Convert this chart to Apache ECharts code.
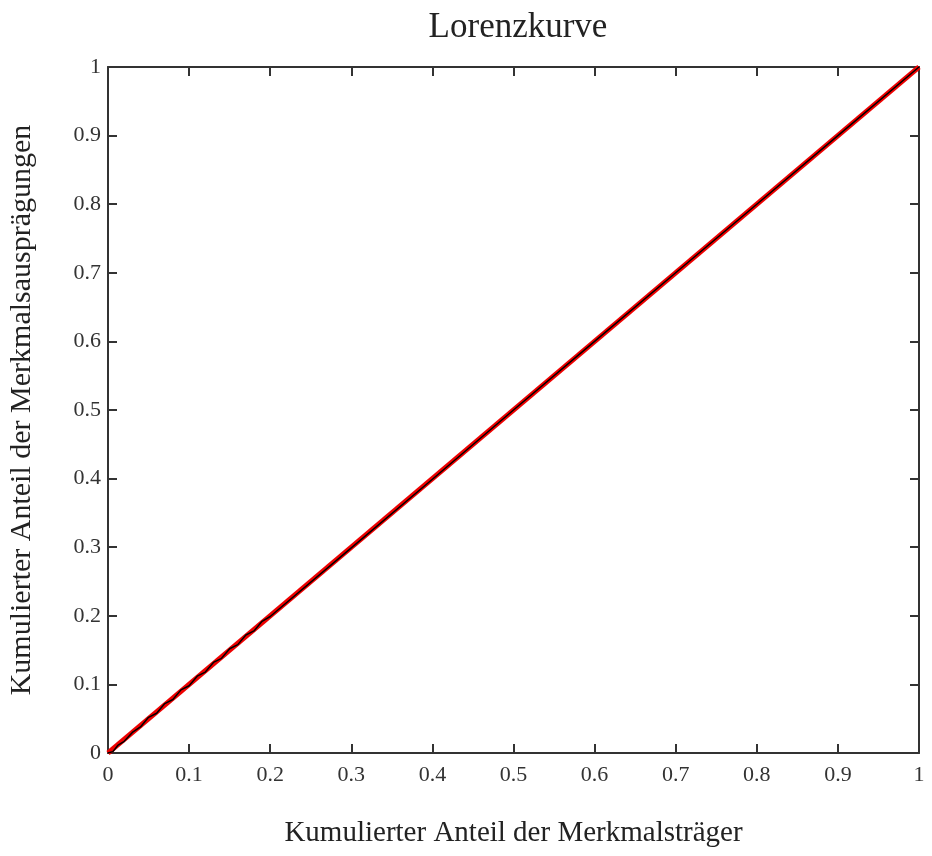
<!DOCTYPE html>
<html><head><meta charset="utf-8">
<script src="https://cdn.jsdelivr.net/npm/echarts@6/dist/echarts.min.js"></script>
<style>html,body{margin:0;padding:0;background:#fff}#c{width:932px;height:856px}</style>
</head><body><div id="c"></div>
<script>
const titleText = "Lorenzkurve";
const xName = "Kumulierter Anteil der Merkmalsträger";
const yName = "Kumulierter Anteil der Merkmalsausprägungen";
const equalityLine = [[0, 0], [1, 1]];
const lorenzX = [0, 0.006, 0.012, 0.02, 0.03, 0.04, 0.05, 0.06, 0.07, 0.08, 0.09, 0.1, 0.11, 0.12, 0.13, 0.14, 0.15, 0.16, 0.17, 0.18, 0.19, 0.2, 0.3, 0.4, 0.5, 0.6, 0.7, 0.8, 0.9, 1];
const lorenzY = [0, 0.002, 0.011, 0.017, 0.03, 0.038, 0.052, 0.058, 0.072, 0.078, 0.092, 0.098, 0.112, 0.118, 0.132, 0.138, 0.152, 0.158, 0.172, 0.178, 0.192, 0.199, 0.299, 0.399, 0.5, 0.6, 0.7, 0.8, 0.9, 1];
const tickLabelFont = {fontFamily: "Liberation Serif", fontSize: 22, color: "#333"};
const fmt = v => (v === 0 ? "0" : v === 1 ? "1" : v.toFixed(1));
const chart = echarts.init(document.getElementById("c"), null, {renderer: "canvas"});
const axLine = {show: true, onZero: false, lineStyle: {color: "#333", width: 2}};
const axTick = {show: true, inside: true, length: 9, lineStyle: {color: "#333", width: 2}};
chart.setOption({
  animation: false,
  title: {text: titleText, left: 513, top: 5, textAlign: "center",
    textStyle: {fontFamily: "Liberation Serif", fontSize: 35, fontWeight: "normal", color: "#222"}},
  grid: {left: 108, right: 13, top: 67, bottom: 103, containLabel: false, outerBoundsMode: "none"},
  xAxis: [
    {type: "value", min: 0, max: 1, interval: 0.1, position: "bottom",
      name: xName, nameLocation: "middle", nameGap: 66,
      nameTextStyle: {fontFamily: "Liberation Serif", fontSize: 29, color: "#222"},
      axisLine: axLine, axisTick: axTick, splitLine: {show: false},
      axisLabel: Object.assign({margin: 11, formatter: fmt}, tickLabelFont)},
    {type: "value", min: 0, max: 1, interval: 0.1, position: "top",
      axisLine: axLine, axisTick: axTick, splitLine: {show: false}, axisLabel: {show: false}}
  ],
  yAxis: [
    {type: "value", min: 0, max: 1, interval: 0.1, position: "left",
      name: yName, nameLocation: "middle", nameGap: 71,
      nameTextStyle: {fontFamily: "Liberation Serif", fontSize: 30, color: "#222"},
      axisLine: axLine, axisTick: axTick, splitLine: {show: false},
      axisLabel: Object.assign({margin: 7, formatter: fmt}, tickLabelFont)},
    {type: "value", min: 0, max: 1, interval: 0.1, position: "right",
      axisLine: axLine, axisTick: axTick, splitLine: {show: false}, axisLabel: {show: false}}
  ],
  series: [
    {type: "line", data: equalityLine, showSymbol: false, lineStyle: {color: "#ee0000", width: 5}, z: 2},
    {type: "line", data: lorenzX.map((x, i) => [x, lorenzY[i]]), showSymbol: false,
      lineStyle: {color: "#000", width: 1.5}, z: 3}
  ]
});
</script></body></html>
